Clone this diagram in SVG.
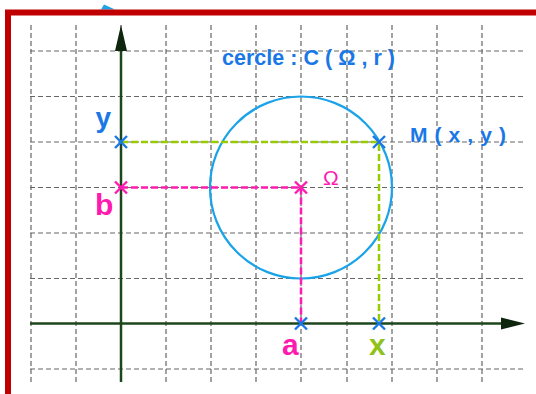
<svg xmlns="http://www.w3.org/2000/svg" width="536" height="394" viewBox="0 0 536 394">
  <style>
    .grid { stroke: #666666; stroke-width: 1.2; stroke-dasharray: 5 3; fill: none; }
    .axis { stroke: #1c461c; stroke-width: 2.5; fill: none; }
    .arrow { fill: #0d260d; }
    .gdash { stroke: #99cc00; stroke-width: 2.5; stroke-dasharray: 7 3; fill: none; }
    .mdash { stroke: #ff1ab0; stroke-width: 2.5; stroke-dasharray: 7 3; fill: none; }
    .xb { stroke: #1a78e6; stroke-width: 2.4; fill: none; }
    .xm { stroke: #ff1ab0; stroke-width: 2.4; fill: none; }
    .lbl { font-family: "Liberation Sans", Arial, sans-serif; font-weight: bold; }
    .blue { fill: #1a78e6; }
    .mag { fill: #ff1ab0; }
    .grn { fill: #8fc21a; }
  </style>
  <rect x="0" y="0" width="536" height="394" fill="#ffffff"/>
  <polygon points="101,9.5 104,4.5 115,9.5" fill="#1aa3e8"/>
  <path d="M8,394 V12.5 H536" fill="none" stroke="#c00000" stroke-width="6"/>

  <g id="grid">
    <path class="grid" d="M31,25V382 M76,25V382 M121,25V382 M166,25V382 M211,25V382 M256,25V382 M301,25V382 M347,25V382 M392,25V382 M437,25V382 M482,25V382"/>
    <path class="grid" d="M30,51H523 M30,96.5H523 M30,142H523 M30,187.5H523 M30,233H523 M30,278.5H523 M30,369H523"/>
  </g>

  <g id="axes">
    <path class="axis" d="M30,323.5H505"/>
    <polygon class="arrow" points="501,317.5 525,323.5 501,329.5"/>
    <path class="axis" d="M121,382V48"/>
    <polygon class="arrow" points="115,51 121,25 127,51"/>
  </g>

  <g id="circle">
    <circle cx="301" cy="187.5" r="91" fill="none" stroke="#1aa3e8" stroke-width="2.2"/>
  </g>

  <g id="connectors">
    <path class="gdash" d="M121,142H379V323.5"/>
    <path class="mdash" d="M121,187.5H301V323.5"/>
  </g>

  <g id="point-y">
    <path class="xb" d="M115,136l12,12M127,136l-12,12"/>
    <text class="lbl blue" x="95.5" y="127" font-size="28">y</text>
  </g>
  <g id="point-b">
    <path class="xm" d="M115,181.5l12,12M127,181.5l-12,12"/>
    <text class="lbl mag" x="95" y="214.5" font-size="30">b</text>
  </g>
  <g id="point-omega">
    <path class="xm" d="M295,181.5l12,12M307,181.5l-12,12"/>
    <text x="323" y="185" font-size="21" font-family="Liberation Sans, Arial, sans-serif" class="mag">Ω</text>
  </g>
  <g id="point-M">
    <path class="xb" d="M373,136l12,12M385,136l-12,12"/>
    <text class="lbl blue" x="410" y="141.5" font-size="21" textLength="96" lengthAdjust="spacing">M ( x , y )</text>
  </g>
  <g id="point-a">
    <path class="xb" d="M295,317.5l12,12M307,317.5l-12,12"/>
    <text class="lbl mag" x="282" y="354.5" font-size="30">a</text>
  </g>
  <g id="point-x">
    <path class="xb" d="M373,317.5l12,12M385,317.5l-12,12"/>
    <text class="lbl grn" x="369" y="355" font-size="30">x</text>
  </g>
  <g id="title">
    <text class="lbl blue" x="222" y="65" font-size="21.5" textLength="173" lengthAdjust="spacing">cercle : C ( Ω , r )</text>
  </g>
</svg>
